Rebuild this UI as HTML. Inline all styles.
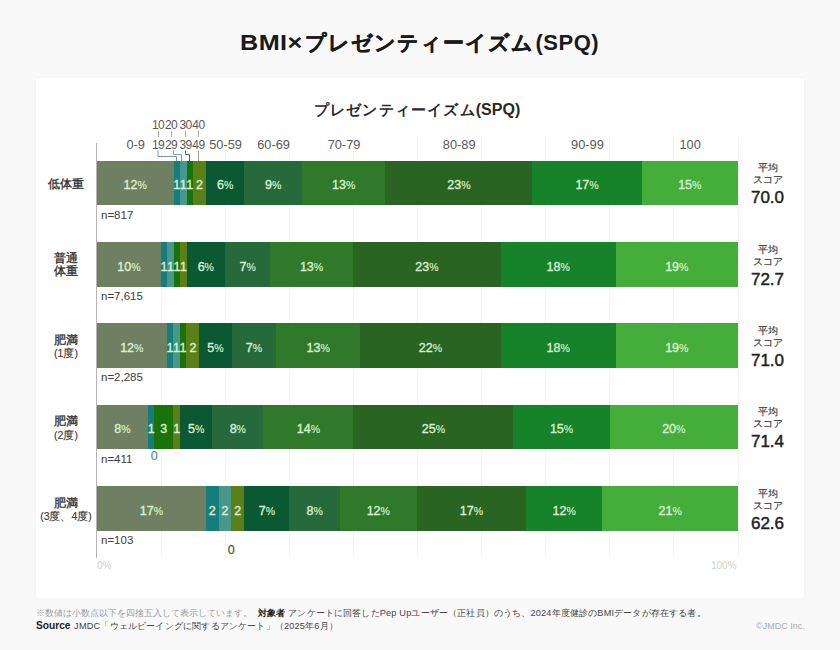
<!DOCTYPE html>
<html><head><meta charset="utf-8"><style>
*{margin:0;padding:0;box-sizing:border-box}
html,body{width:840px;height:650px;overflow:hidden}
body{background:#f9f9f9;position:relative;font-family:"Liberation Sans",sans-serif;color:#333}
.a{position:absolute;white-space:nowrap}
.panel{position:absolute;left:36px;top:78px;width:768px;height:520px;background:#fff;box-shadow:0 0 3px rgba(0,0,0,0.035)}
.title{left:240px;top:30.5px;font-size:22px;font-weight:bold;color:#1a1a1a;line-height:24px}
.sub{left:0;width:834px;top:100px;text-align:center;font-size:16px;font-weight:bold;color:#2a2a2a;line-height:20px}
.seg{position:absolute}
.sl{position:absolute;transform:translateX(-50%);font-size:12.5px;font-weight:normal;-webkit-text-stroke:0.35px #d9f2cf;color:#d9f2cf;line-height:14px;white-space:nowrap}
.sl small{font-size:10.5px;font-weight:normal;-webkit-text-stroke:0.15px #d9f2cf}
.cl{position:absolute;transform:translateX(-50%);font-size:12px;color:#595959;line-height:14px;white-space:nowrap}
.g{position:absolute;width:1px;background:#f4f4f4}
.nl{position:absolute;left:101px;font-size:11.5px;color:#3c3c3c;line-height:12px}
.rn{position:absolute;left:36px;width:60px;text-align:center;font-size:12px;font-weight:normal;-webkit-text-stroke:0.35px #333;color:#333;line-height:12.5px}
.rn.s{font-size:10.5px;font-weight:normal;-webkit-text-stroke:0.1px #333;color:#333}
.av{position:absolute;left:740px;width:55px;text-align:center;color:#333;white-space:nowrap}
.av .t{font-size:10px;line-height:12px;margin-top:0px;-webkit-text-stroke:0.2px #444;color:#3a3a3a}
.av .v{font-size:17px;font-weight:normal;-webkit-text-stroke:0.45px #222;color:#222;line-height:18px;margin-top:3px}
.foot{left:36px;font-size:9.2px;line-height:11px;color:#444}
</style></head><body>
<div class="panel"></div>
<div class="a title"><span style="display:inline-block;width:65px;letter-spacing:0.4px;font-size:22.5px;transform:scaleX(1.12);transform-origin:0 50%">BMI×</span><span style="font-size:20.5px;letter-spacing:1.05px;margin-left:0px;-webkit-text-stroke:0.4px #1a1a1a">プレゼンティーイズム</span><span style="letter-spacing:0.5px;margin-left:1px">(SPQ)</span></div>
<div class="a sub"><span style="font-size:15.2px;letter-spacing:1.2px">プレゼンティーイズム</span>(SPQ)</div>

<div class="g" style="left:160.6px;top:137px;height:420px"></div>
<div class="g" style="left:224.7px;top:137px;height:420px"></div>
<div class="g" style="left:288.8px;top:137px;height:420px"></div>
<div class="g" style="left:352.9px;top:137px;height:420px"></div>
<div class="g" style="left:417.0px;top:137px;height:420px"></div>
<div class="g" style="left:481.1px;top:137px;height:420px"></div>
<div class="g" style="left:545.2px;top:137px;height:420px"></div>
<div class="g" style="left:609.3px;top:137px;height:420px"></div>
<div class="g" style="left:673.4px;top:137px;height:420px"></div>
<div class="g" style="left:737.5px;top:137px;height:420px"></div>
<div style="position:absolute;left:96px;top:142.5px;width:1px;height:415px;background:#b5b5b5"></div>
<div class="cl" style="left:135.7px;top:138px;letter-spacing:0px;font-size:12.8px">0-9</div>
<div class="cl" style="left:225.5px;top:138px;letter-spacing:0px;font-size:12.8px">50-59</div>
<div class="cl" style="left:273.6px;top:138px;letter-spacing:0px;font-size:12.8px">60-69</div>
<div class="cl" style="left:344.0px;top:138px;letter-spacing:0px;font-size:12.8px">70-79</div>
<div class="cl" style="left:459.2px;top:138px;letter-spacing:0px;font-size:12.8px">80-89</div>
<div class="cl" style="left:587.4px;top:138px;letter-spacing:0px;font-size:12.8px">90-99</div>
<div class="cl" style="left:690.1px;top:138px;letter-spacing:0px;font-size:12.8px">100</div>
<div class="cl" style="left:158px;top:117.5px;letter-spacing:-0.6px">10</div>
<div class="cl" style="left:158px;top:137.8px;letter-spacing:-0.6px">19</div>
<div style="position:absolute;left:157.5px;top:131px;width:1px;height:6px;background:#aaa"></div>
<div class="cl" style="left:171px;top:117.5px;letter-spacing:-0.6px">20</div>
<div class="cl" style="left:171px;top:137.8px;letter-spacing:-0.6px">29</div>
<div style="position:absolute;left:170.5px;top:131px;width:1px;height:6px;background:#aaa"></div>
<div class="cl" style="left:185.6px;top:117.5px;letter-spacing:-0.6px">30</div>
<div class="cl" style="left:185.6px;top:137.8px;letter-spacing:-0.6px">39</div>
<div style="position:absolute;left:185.1px;top:131px;width:1px;height:6px;background:#aaa"></div>
<div class="cl" style="left:198.4px;top:117.5px;letter-spacing:-0.6px">40</div>
<div class="cl" style="left:198.4px;top:137.8px;letter-spacing:-0.6px">49</div>
<div style="position:absolute;left:197.9px;top:131px;width:1px;height:6px;background:#aaa"></div>
<svg style="position:absolute;left:0;top:0" width="840" height="650"><g fill="none" stroke-width="1">
<path d="M158,150.5V156.5H176.5V161" stroke="#7d9a9a"/>
<path d="M173.5,150.5V154.5H181.5V161" stroke="#6aa7aa"/>
<path d="M185.5,150.5V154.5H189.5V161" stroke="#4a6a4a"/>
<path d="M198.5,150.5V161" stroke="#9aa08a"/>
</g></svg>
<div class="seg" style="left:97px;top:160.6px;width:77px;height:44.5px;background:#6f7f62"></div>
<div class="seg" style="left:174px;top:160.6px;width:6px;height:44.5px;background:#167e7a"></div>
<div class="seg" style="left:180px;top:160.6px;width:7px;height:44.5px;background:#48978c"></div>
<div class="seg" style="left:187px;top:160.6px;width:6px;height:44.5px;background:#197309"></div>
<div class="seg" style="left:193px;top:160.6px;width:13px;height:44.5px;background:#5b8018"></div>
<div class="seg" style="left:206px;top:160.6px;width:38px;height:44.5px;background:#0b5932"></div>
<div class="seg" style="left:244px;top:160.6px;width:58px;height:44.5px;background:#266a3c"></div>
<div class="seg" style="left:302px;top:160.6px;width:83px;height:44.5px;background:#30782a"></div>
<div class="seg" style="left:385px;top:160.6px;width:147px;height:44.5px;background:#2a6422"></div>
<div class="seg" style="left:532px;top:160.6px;width:110px;height:44.5px;background:#168229"></div>
<div class="seg" style="left:642px;top:160.6px;width:96px;height:44.5px;background:#45ae3b"></div>
<div class="sl" style="left:135.2px;top:178.1px">12<small>%</small></div>
<div class="sl" style="left:176.8px;top:178.1px">1</div>
<div class="sl" style="left:183.3px;top:178.1px">1</div>
<div class="sl" style="left:189.8px;top:178.1px">1</div>
<div class="sl" style="left:199.4px;top:178.1px">2</div>
<div class="sl" style="left:225.1px;top:178.1px">6<small>%</small></div>
<div class="sl" style="left:273.2px;top:178.1px">9<small>%</small></div>
<div class="sl" style="left:343.6px;top:178.1px">13<small>%</small></div>
<div class="sl" style="left:458.9px;top:178.1px">23<small>%</small></div>
<div class="sl" style="left:587.0px;top:178.1px">17<small>%</small></div>
<div class="sl" style="left:689.8px;top:178.1px">15<small>%</small></div>
<div class="nl" style="top:208.6px">n=817</div>
<div class="rn" style="top:177.7px">低体重</div>
<div class="av" style="top:162.1px"><div class="t">平均<br>スコア</div><div class="v">70.0</div></div>
<div class="seg" style="left:97px;top:242.0px;width:64px;height:44.5px;background:#6f7f62"></div>
<div class="seg" style="left:161px;top:242.0px;width:6px;height:44.5px;background:#167e7a"></div>
<div class="seg" style="left:167px;top:242.0px;width:7px;height:44.5px;background:#48978c"></div>
<div class="seg" style="left:174px;top:242.0px;width:6px;height:44.5px;background:#197309"></div>
<div class="seg" style="left:180px;top:242.0px;width:7px;height:44.5px;background:#5b8018"></div>
<div class="seg" style="left:187px;top:242.0px;width:38px;height:44.5px;background:#0b5932"></div>
<div class="seg" style="left:225px;top:242.0px;width:45px;height:44.5px;background:#266a3c"></div>
<div class="seg" style="left:270px;top:242.0px;width:83px;height:44.5px;background:#30782a"></div>
<div class="seg" style="left:353px;top:242.0px;width:148px;height:44.5px;background:#2a6422"></div>
<div class="seg" style="left:501px;top:242.0px;width:115px;height:44.5px;background:#168229"></div>
<div class="seg" style="left:616px;top:242.0px;width:122px;height:44.5px;background:#45ae3b"></div>
<div class="sl" style="left:128.9px;top:259.5px">10<small>%</small></div>
<div class="sl" style="left:164.0px;top:259.5px">1</div>
<div class="sl" style="left:170.4px;top:259.5px">1</div>
<div class="sl" style="left:176.9px;top:259.5px">1</div>
<div class="sl" style="left:183.4px;top:259.5px">1</div>
<div class="sl" style="left:205.8px;top:259.5px">6<small>%</small></div>
<div class="sl" style="left:247.6px;top:259.5px">7<small>%</small></div>
<div class="sl" style="left:311.5px;top:259.5px">13<small>%</small></div>
<div class="sl" style="left:426.9px;top:259.5px">23<small>%</small></div>
<div class="sl" style="left:558.1px;top:259.5px">18<small>%</small></div>
<div class="sl" style="left:676.8px;top:259.5px">19<small>%</small></div>
<div class="nl" style="top:290.0px">n=7,615</div>
<div class="rn" style="top:252.3px">普通</div>
<div class="rn" style="top:264.8px">体重</div>
<div class="av" style="top:243.5px"><div class="t">平均<br>スコア</div><div class="v">72.7</div></div>
<div class="seg" style="left:97px;top:323.4px;width:70px;height:44.5px;background:#6f7f62"></div>
<div class="seg" style="left:167px;top:323.4px;width:6px;height:44.5px;background:#167e7a"></div>
<div class="seg" style="left:173px;top:323.4px;width:7px;height:44.5px;background:#48978c"></div>
<div class="seg" style="left:180px;top:323.4px;width:6px;height:44.5px;background:#197309"></div>
<div class="seg" style="left:186px;top:323.4px;width:13px;height:44.5px;background:#5b8018"></div>
<div class="seg" style="left:199px;top:323.4px;width:33px;height:44.5px;background:#0b5932"></div>
<div class="seg" style="left:232px;top:323.4px;width:44px;height:44.5px;background:#266a3c"></div>
<div class="seg" style="left:276px;top:323.4px;width:84px;height:44.5px;background:#30782a"></div>
<div class="seg" style="left:360px;top:323.4px;width:141px;height:44.5px;background:#2a6422"></div>
<div class="seg" style="left:501px;top:323.4px;width:115px;height:44.5px;background:#168229"></div>
<div class="seg" style="left:616px;top:323.4px;width:122px;height:44.5px;background:#45ae3b"></div>
<div class="sl" style="left:131.8px;top:340.9px">12<small>%</small></div>
<div class="sl" style="left:169.9px;top:340.9px">1</div>
<div class="sl" style="left:176.5px;top:340.9px">1</div>
<div class="sl" style="left:183.1px;top:340.9px">1</div>
<div class="sl" style="left:192.9px;top:340.9px">2</div>
<div class="sl" style="left:215.4px;top:340.9px">5<small>%</small></div>
<div class="sl" style="left:253.9px;top:340.9px">7<small>%</small></div>
<div class="sl" style="left:318.1px;top:340.9px">13<small>%</small></div>
<div class="sl" style="left:430.4px;top:340.9px">22<small>%</small></div>
<div class="sl" style="left:558.1px;top:340.9px">18<small>%</small></div>
<div class="sl" style="left:676.8px;top:340.9px">19<small>%</small></div>
<div class="nl" style="top:371.4px">n=2,285</div>
<div class="rn" style="top:333.7px">肥満</div>
<div class="rn s" style="top:347.4px">(1度)</div>
<div class="av" style="top:324.9px"><div class="t">平均<br>スコア</div><div class="v">71.0</div></div>
<div class="seg" style="left:97px;top:404.8px;width:51px;height:44.5px;background:#6f7f62"></div>
<div class="seg" style="left:148px;top:404.8px;width:6px;height:44.5px;background:#167e7a"></div>
<div class="seg" style="left:154px;top:404.8px;width:19px;height:44.5px;background:#197309"></div>
<div class="seg" style="left:173px;top:404.8px;width:7px;height:44.5px;background:#5b8018"></div>
<div class="seg" style="left:180px;top:404.8px;width:32px;height:44.5px;background:#0b5932"></div>
<div class="seg" style="left:212px;top:404.8px;width:51px;height:44.5px;background:#266a3c"></div>
<div class="seg" style="left:263px;top:404.8px;width:90px;height:44.5px;background:#30782a"></div>
<div class="seg" style="left:353px;top:404.8px;width:160px;height:44.5px;background:#2a6422"></div>
<div class="seg" style="left:513px;top:404.8px;width:97px;height:44.5px;background:#168229"></div>
<div class="seg" style="left:610px;top:404.8px;width:128px;height:44.5px;background:#45ae3b"></div>
<div class="sl" style="left:122.5px;top:422.3px">8<small>%</small></div>
<div class="sl" style="left:151.2px;top:422.3px">1</div>
<div class="sl" style="left:154.3px;top:449.3px;color:#5b8f8c;-webkit-text-stroke:0.2px #5b8f8c;font-weight:normal;font-size:12.5px">0</div>
<div class="sl" style="left:163.8px;top:422.3px">3</div>
<div class="sl" style="left:176.7px;top:422.3px">1</div>
<div class="sl" style="left:196.1px;top:422.3px">5<small>%</small></div>
<div class="sl" style="left:237.8px;top:422.3px">8<small>%</small></div>
<div class="sl" style="left:308.4px;top:422.3px">14<small>%</small></div>
<div class="sl" style="left:433.4px;top:422.3px">25<small>%</small></div>
<div class="sl" style="left:561.5px;top:422.3px">15<small>%</small></div>
<div class="sl" style="left:673.8px;top:422.3px">20<small>%</small></div>
<div class="nl" style="top:452.8px">n=411</div>
<div class="rn" style="top:415.1px">肥満</div>
<div class="rn s" style="top:428.8px">(2度)</div>
<div class="av" style="top:406.3px"><div class="t">平均<br>スコア</div><div class="v">71.4</div></div>
<div class="seg" style="left:97px;top:486.2px;width:109px;height:44.5px;background:#6f7f62"></div>
<div class="seg" style="left:206px;top:486.2px;width:13px;height:44.5px;background:#167e7a"></div>
<div class="seg" style="left:219px;top:486.2px;width:12px;height:44.5px;background:#48978c"></div>
<div class="seg" style="left:231px;top:486.2px;width:13px;height:44.5px;background:#5b8018"></div>
<div class="seg" style="left:244px;top:486.2px;width:45px;height:44.5px;background:#0b5932"></div>
<div class="seg" style="left:289px;top:486.2px;width:51px;height:44.5px;background:#266a3c"></div>
<div class="seg" style="left:340px;top:486.2px;width:77px;height:44.5px;background:#30782a"></div>
<div class="seg" style="left:417px;top:486.2px;width:109px;height:44.5px;background:#2a6422"></div>
<div class="seg" style="left:526px;top:486.2px;width:76px;height:44.5px;background:#168229"></div>
<div class="seg" style="left:602px;top:486.2px;width:136px;height:44.5px;background:#45ae3b"></div>
<div class="sl" style="left:151.4px;top:503.7px">17<small>%</small></div>
<div class="sl" style="left:212.2px;top:503.7px">2</div>
<div class="sl" style="left:224.9px;top:503.7px">2</div>
<div class="sl" style="left:231.2px;top:543.2px;color:#2d5e2a;-webkit-text-stroke:0.2px #2d5e2a;font-weight:normal;font-size:12.5px">0</div>
<div class="sl" style="left:237.8px;top:503.7px">2</div>
<div class="sl" style="left:266.9px;top:503.7px">7<small>%</small></div>
<div class="sl" style="left:314.6px;top:503.7px">8<small>%</small></div>
<div class="sl" style="left:378.3px;top:503.7px">12<small>%</small></div>
<div class="sl" style="left:471.4px;top:503.7px">17<small>%</small></div>
<div class="sl" style="left:564.2px;top:503.7px">12<small>%</small></div>
<div class="sl" style="left:670.2px;top:503.7px">21<small>%</small></div>
<div class="nl" style="top:534.2px">n=103</div>
<div class="rn" style="top:496.5px">肥満</div>
<div class="rn s" style="top:510.2px">(3度、4度)</div>
<div class="av" style="top:487.7px"><div class="t">平均<br>スコア</div><div class="v">62.6</div></div>
<div class="a" style="left:97px;top:560px;font-size:10px;color:#d0d0d0">0%</div>
<div class="a" style="left:711px;top:560px;font-size:10px;color:#d0d0d0">100%</div>
<div class="a foot" style="top:607.5px"><span style="color:#9a9a9a">※数値は小数点以下を四捨五入して表示しています。</span><span style="margin-left:6px;letter-spacing:0.16px"><b style="color:#222">対象者</b> アンケートに回答したPep Upユーザー（正社員）のうち、2024年度健診のBMIデータが存在する者。</span></div>
<div class="a foot" style="top:620px"><b style="color:#222;font-size:10.2px">Source</b>&nbsp;<span style="letter-spacing:0.18px;margin-left:1px">JMDC「ウェルビーイングに関するアンケート」（2025年6月）</span></div>
<div class="a" style="left:756px;top:621px;font-size:9px;color:#aaa">©JMDC Inc.</div>
</body></html>
